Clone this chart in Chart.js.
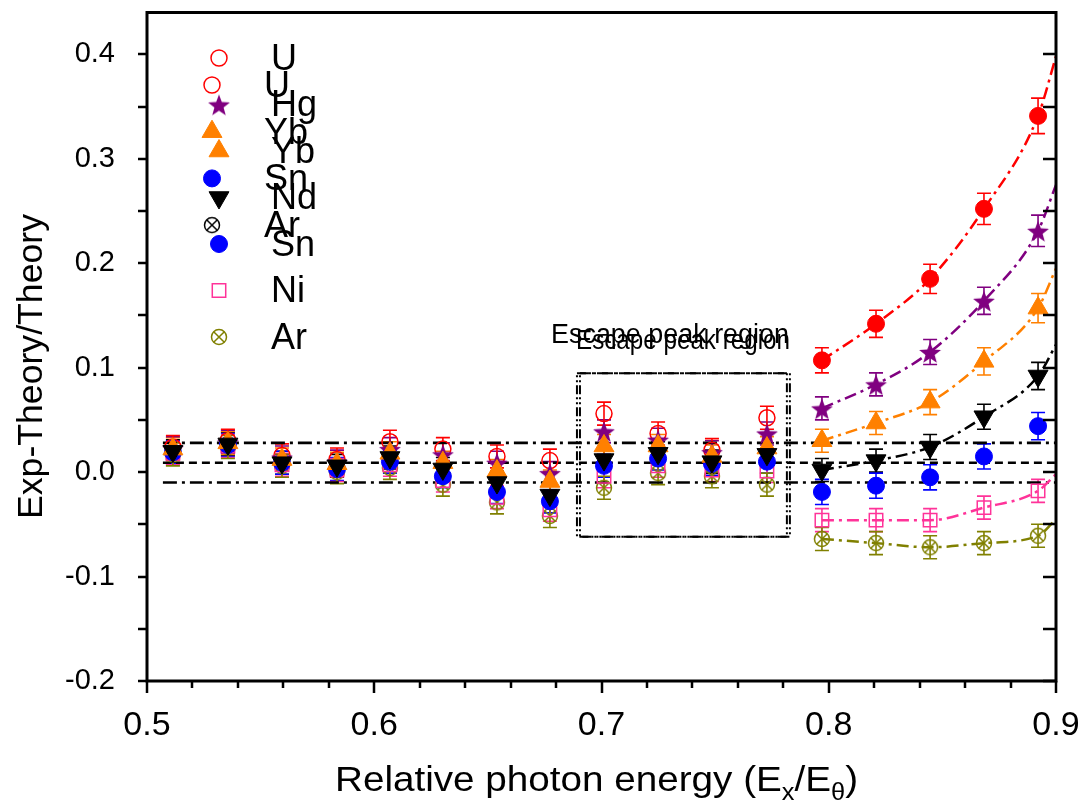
<!DOCTYPE html>
<html>
<head>
<meta charset="utf-8">
<script src="https://cdn.jsdelivr.net/npm/chart.js@4.4.1/dist/chart.umd.min.js"></script>
<style>
  html, body { margin: 0; padding: 0; background: #fff; }
</style>
</head>
<body>
<canvas id="chart" width="1078" height="809"></canvas>
<script>
// x positions of the measured points
const xLow = [0.5114, 0.5356, 0.5594, 0.5836, 0.6069, 0.6302, 0.6540, 0.6773, 0.7011, 0.7249, 0.7486, 0.7728];
const xHigh = [0.7970, 0.8208, 0.8446, 0.8683, 0.8921];
const xFitEnd = 0.9;

// below 0.79 (all elements overlap)
const uLow  = [0.024, 0.030, 0.016, 0.012, 0.029, 0.022, 0.015, 0.011, 0.056, 0.037, 0.021, 0.052];
const hgLow = [0.023, 0.029, 0.014, 0.010, 0.022, 0.017, 0.009, -0.001, 0.039, 0.031, 0.019, 0.037];
const ybLow = [0.022, 0.028, 0.012, 0.008, 0.018, 0.009, 0.001, -0.009, 0.025, 0.025, 0.015, 0.023];
const ndLow = [0.020, 0.027, 0.009, 0.006, 0.014, 0.003, -0.010, -0.022, 0.012, 0.018, 0.010, 0.017];
const snLow = [0.019, 0.026, 0.009, 0.003, 0.010, -0.004, -0.019, -0.028, 0.006, 0.013, 0.008, 0.010];
const niLow = [0.018, 0.025, 0.007, 0.002, 0.007, -0.008, -0.024, -0.036, -0.004, 0.006, 0.002, 0.001];
const arLow = [0.017, 0.024, 0.006, 0.000, 0.004, -0.012, -0.029, -0.042, -0.015, -0.001, -0.004, -0.012];
const lowErr = 0.011;

// above 0.79
const uHigh  = [0.107, 0.142, 0.185, 0.252, 0.341];
const hgHigh = [0.061, 0.084, 0.115, 0.164, 0.231];
const ybHigh = [0.030, 0.047, 0.067, 0.106, 0.157];
const ndHigh = [0.002, 0.011, 0.024, 0.053, 0.092];
const snHigh = [-0.019, -0.013, -0.005, 0.015, 0.044];
const niHigh = [-0.046, -0.046, -0.046, -0.034, -0.018];
const arHigh = [-0.064, -0.068, -0.072, -0.068, -0.061];

const uErr  = [0.012, 0.013, 0.014, 0.015, 0.017];
const hgErr = [0.011, 0.011, 0.012, 0.013, 0.015];
const ybErr = [0.011, 0.011, 0.012, 0.013, 0.014];
const ndErr = [0.011, 0.011, 0.012, 0.012, 0.013];
const snErr = [0.012, 0.012, 0.012, 0.012, 0.013];
const niErr = [0.011, 0.011, 0.011, 0.011, 0.011];
const arErr = [0.011, 0.011, 0.011, 0.011, 0.011];

// where the fitted curves leave the frame at x = 0.9
const uEnd = 0.398, hgEnd = 0.275, ybEnd = 0.195, ndEnd = 0.122, niEnd = -0.002, arEnd = -0.045;

const refLevels = [0.028, 0.009, -0.010];
const refStart = 0.507;
const escapeBox = [0.6892, 0.7829, 0.0946, -0.062];

const xTicks = [0.5, 0.6, 0.7, 0.8, 0.9];
const yTicks = [-0.2, -0.1, 0.0, 0.1, 0.2, 0.3, 0.4];
const legendA = ['U', 'Hg', 'Yb', 'Nd', 'Sn', 'Ni', 'Ar'];
const legendB = ['U', 'Yb', 'Sn', 'Ar*'];

const RED = '#ff0000', PURPLE = '#800080', ORANGE = '#ff8000', BLACK = '#000000',
      BLUE = '#0000ff', PINK = '#ff3399', OLIVE = '#808000';
const SANS = "'Liberation Sans', Arial, sans-serif";
const NARROW = "'Liberation Sans Narrow', 'Liberation Sans', Arial, sans-serif";

function makeMarker(size, draw) {
    const c = document.createElement('canvas');
    c.width = c.height = size;
    draw(c.getContext('2d'), size / 2);
    return c;
}
const starImg = makeMarker(26, (g, m) => {
    g.fillStyle = PURPLE;
    g.beginPath();
    for (let i = 0; i < 10; i++) {
        const r = i % 2 ? 4.8 : 11.5;
        const a = -Math.PI / 2 + i * Math.PI / 5;
        g.lineTo(m + r * Math.cos(a), m + 1.5 + r * Math.sin(a));
    }
    g.closePath();
    g.fill();
});
function crossCircle(color) {
    return makeMarker(22, (g, m) => {
        g.strokeStyle = color;
        g.lineWidth = 1.5;
        g.beginPath();
        g.arc(m, m, 7.5, 0, Math.PI * 2);
        g.stroke();
        const d = 7.5 * Math.SQRT1_2;
        g.beginPath();
        g.moveTo(m - d, m - d); g.lineTo(m + d, m + d);
        g.moveTo(m + d, m - d); g.lineTo(m - d, m + d);
        g.stroke();
    });
}
const arOlive = crossCircle(OLIVE);
const arBlack = crossCircle(BLACK);

const openCircle = { pointStyle: 'circle', pointRadius: 8, pointBackgroundColor: 'rgba(0,0,0,0)', pointBorderWidth: 1.5 };
const series = [
    { label: 'Nd', color: BLACK, low: ndLow, high: ndHigh, err: ndErr, end: ndEnd, order: 1,
      pt: { pointStyle: 'triangle', pointRotation: 180, pointRadius: 11.5, pointBorderWidth: 1 } },
    { label: 'Yb', color: ORANGE, low: ybLow, high: ybHigh, err: ybErr, end: ybEnd, order: 2,
      pt: { pointStyle: 'triangle', pointRadius: 11.5, pointBorderWidth: 1 } },
    { label: 'Sn', color: BLUE, low: snLow, high: snHigh, err: snErr, end: null, order: 3,
      pt: { pointStyle: 'circle', pointRadius: 8.5, pointBorderWidth: 1 } },
    { label: 'Hg', color: PURPLE, low: hgLow, high: hgHigh, err: hgErr, end: hgEnd, order: 4,
      pt: { pointStyle: starImg, pointRadius: 10 } },
    { label: 'U', color: RED, low: uLow, high: uHigh, err: uErr, end: uEnd, order: 5,
      lowPt: openCircle, pt: { pointStyle: 'circle', pointRadius: 8.5, pointBorderWidth: 1 } },
    { label: 'Ni', color: PINK, low: niLow, high: niHigh, err: niErr, end: niEnd, order: 6,
      pt: { pointStyle: 'rect', pointRadius: 9.5, pointBackgroundColor: 'rgba(0,0,0,0)', pointBorderWidth: 1.5 } },
    { label: 'Ar', color: OLIVE, low: arLow, high: arHigh, err: arErr, end: arEnd, order: 7,
      pt: { pointStyle: arOlive, pointRadius: 8 } }
];

const datasets = [];
const refDash = [[14, 5, 3, 5], [8, 5], [14, 5, 3, 5]];
refLevels.forEach((v, i) => datasets.push({
    data: [{ x: refStart, y: v }, { x: xFitEnd, y: v }],
    showLine: true, pointRadius: 0, borderColor: BLACK, borderWidth: 2.6,
    borderDash: refDash[i], order: 30
}));
series.forEach(s => {
    datasets.push(Object.assign({
        data: xLow.map((x, i) => ({ x, y: s.low[i] })),
        errors: xLow.map(() => lowErr),
        borderColor: s.color, backgroundColor: s.color,
        pointBorderColor: s.color, pointBackgroundColor: s.color,
        showLine: false, order: s.order
    }, s.lowPt || s.pt));
    datasets.push(Object.assign({
        data: xHigh.map((x, i) => ({ x, y: s.high[i] })),
        errors: s.err,
        borderColor: s.color, backgroundColor: s.color,
        pointBorderColor: s.color, pointBackgroundColor: s.color,
        showLine: false, order: s.order
    }, s.pt));
    if (s.end !== null) {
        datasets.push({
            data: xHigh.map((x, i) => ({ x, y: s.high[i] })).concat([{ x: xFitEnd, y: s.end }]),
            showLine: true, pointRadius: 0, borderColor: s.color, borderWidth: 2.5,
            borderDash: [12, 5, 3, 5], cubicInterpolationMode: 'monotone', order: 20
        });
    }
});

function legendMarker(name) {
    if (name === 'Ar*') return { color: BLACK, pt: { pointStyle: arBlack, pointRadius: 8 } };
    const s = series.find(d => d.label === name);
    return { color: s.color, pt: s.lowPt || s.pt };
}

function fitText(ctx, text, x, y, width) {
    const w = ctx.measureText(text).width;
    ctx.save();
    ctx.translate(x, y);
    ctx.scale(width / w, 1);
    ctx.fillText(text, 0, 0);
    ctx.restore();
}

const decorations = {
    id: 'decorations',
    beforeDatasetsDraw(chart) {
        const { ctx, scales: { x, y }, chartArea } = chart;
        ctx.save();
        // error bars
        ctx.beginPath();
        ctx.rect(chartArea.left, chartArea.top, chartArea.width, chartArea.height);
        ctx.clip();
        chart.data.datasets.forEach(ds => {
            if (!ds.errors) return;
            ctx.strokeStyle = ds.pointBorderColor;
            ctx.lineWidth = 1.6;
            ds.data.forEach((p, i) => {
                const px = x.getPixelForValue(p.x);
                const t = y.getPixelForValue(p.y + ds.errors[i]);
                const b = y.getPixelForValue(p.y - ds.errors[i]);
                ctx.beginPath();
                ctx.moveTo(px, t); ctx.lineTo(px, b);
                ctx.moveTo(px - 7, t); ctx.lineTo(px + 7, t);
                ctx.moveTo(px - 7, b); ctx.lineTo(px + 7, b);
                ctx.stroke();
            });
        });
        // escape peak region box, drawn twice like the original
        ctx.strokeStyle = BLACK;
        ctx.lineWidth = 2;
        ctx.setLineDash([9, 3, 2, 3, 2, 3]);
        const bx0 = x.getPixelForValue(escapeBox[0]), bx1 = x.getPixelForValue(escapeBox[1]);
        const by0 = y.getPixelForValue(escapeBox[2]), by1 = y.getPixelForValue(escapeBox[3]);
        ctx.strokeRect(bx0, by0, bx1 - bx0 - 3, by1 - by0);
        ctx.strokeRect(bx0 + 3, by0, bx1 - bx0 - 3, by1 - by0);
        ctx.restore();

        ctx.save();
        ctx.fillStyle = BLACK;
        ctx.textBaseline = 'alphabetic';
        ctx.font = '27px ' + SANS;
        fitText(ctx, 'Escape peak region', 551, 343, 238);
        fitText(ctx, 'Escape peak region', 576, 349, 214);
        ctx.restore();
    },
    afterDraw(chart) {
        const { ctx, scales: { x, y }, chartArea: a } = chart;
        ctx.save();
        ctx.strokeStyle = BLACK;
        ctx.lineWidth = 3;
        ctx.strokeRect(a.left, a.top, a.right - a.left, a.bottom - a.top);
        ctx.lineWidth = 2.5;
        ctx.beginPath();
        for (let v = 0.5; v <= 0.9001; v += 0.02) {
            const px = Math.round(x.getPixelForValue(v));
            const major = Math.abs(v * 10 - Math.round(v * 10)) < 1e-6;
            ctx.moveTo(px, a.bottom);
            ctx.lineTo(px, a.bottom + (major ? 12 : 7));
        }
        for (let v = -0.2; v <= 0.4001; v += 0.05) {
            const py = Math.round(y.getPixelForValue(v));
            ctx.moveTo(a.left, py); ctx.lineTo(a.left - 9, py);
            ctx.moveTo(a.right, py); ctx.lineTo(a.right - 13, py);
        }
        ctx.stroke();

        // axis titles
        ctx.fillStyle = BLACK;
        ctx.textBaseline = 'alphabetic';
        ctx.save();
        ctx.translate(42, 367);
        ctx.rotate(-Math.PI / 2);
        ctx.font = '35px ' + SANS;
        fitText(ctx, 'Exp-Theory/Theory', -152, 0, 305);
        ctx.restore();

        const parts = [['Relative photon energy (E', 0], ['x', 1], ['/E', 0], ['\u03b8', 1], [')', 0]];
        const mainFont = '35px ' + SANS, subFont = '23px ' + SANS;
        let total = 0;
        const widths = parts.map(p => {
            ctx.font = p[1] ? subFont : mainFont;
            const w = ctx.measureText(p[0]).width;
            total += w;
            return w;
        });
        ctx.save();
        ctx.translate(335, 791);
        ctx.scale(523 / total, 1);
        let cx = 0;
        parts.forEach((p, i) => {
            ctx.font = p[1] ? subFont : mainFont;
            ctx.fillText(p[0], cx, p[1] ? 9 : 0);
            cx += widths[i];
        });
        ctx.restore();

        // the two overlapping legends
        const drawLegend = (names, mx, tx, y0, step) => {
            names.forEach((n, i) => {
                const m = legendMarker(n);
                const yy = y0 + i * step;
                ctx.fillStyle = m.pt.pointBackgroundColor || m.color;
                ctx.strokeStyle = m.color;
                ctx.lineWidth = m.pt.pointBorderWidth || 1;
                Chart.helpers.drawPoint(ctx, {
                    pointStyle: m.pt.pointStyle, radius: m.pt.pointRadius,
                    rotation: m.pt.pointRotation || 0, borderWidth: m.pt.pointBorderWidth || 1
                }, mx, yy);
                ctx.fillStyle = BLACK;
                ctx.font = '36px ' + SANS;
                ctx.textBaseline = 'middle';
                ctx.fillText(n.replace('*', ''), tx, yy + 2);
            });
        };
        drawLegend(legendB, 212, 264, 85, 46.7);
        drawLegend(legendA, 219, 271, 58, 46.5);
        ctx.restore();
    }
};

new Chart(document.getElementById('chart'), {
    type: 'scatter',
    data: { datasets },
    options: {
        responsive: false,
        animation: false,
        events: [],
        layout: { padding: { left: 0, top: 12, right: 22, bottom: 0 } },
        plugins: { legend: { display: false }, tooltip: { enabled: false } },
        scales: {
            x: {
                type: 'linear', min: 0.5, max: 0.9,
                afterBuildTicks: s => { s.ticks = xTicks.map(v => ({ value: v })); },
                afterFit: s => { s.height = 128; s.paddingLeft = 0; s.paddingRight = 0; },
                ticks: {
                    callback: v => v.toFixed(1), color: BLACK, padding: 16,
                    maxRotation: 0, autoSkip: false, font: { family: NARROW, size: 34 }
                },
                grid: { display: false }, border: { display: false }
            },
            y: {
                type: 'linear', min: -0.2, max: 0.44,
                afterBuildTicks: s => { s.ticks = yTicks.map(v => ({ value: v })); },
                afterFit: s => { s.width = 147; s.paddingTop = 0; s.paddingBottom = 0; },
                ticks: {
                    callback: v => v.toFixed(1), color: BLACK, padding: 24,
                    font: { family: SANS, size: 29 }
                },
                grid: { display: false }, border: { display: false }
            }
        }
    },
    plugins: [decorations]
});
</script>
</body>
</html>
